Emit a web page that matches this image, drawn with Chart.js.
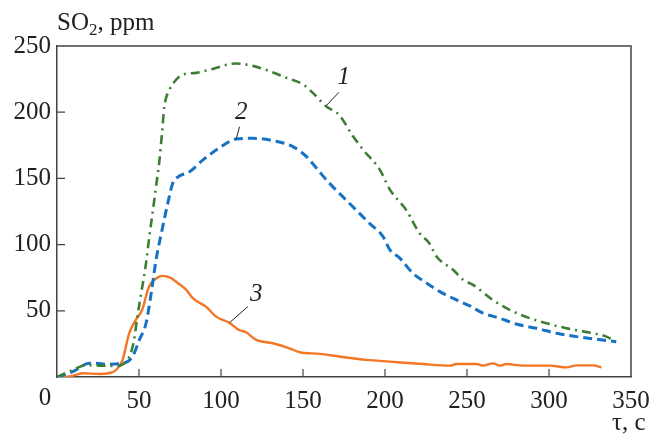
<!DOCTYPE html>
<html>
<head>
<meta charset="utf-8">
<script src="https://cdn.jsdelivr.net/npm/chart.js@4.4.1/dist/chart.umd.min.js"></script>
<style>
  html, body { margin: 0; padding: 0; background: #fff; }
  #wrap { width: 664px; height: 437px; position: relative; }
</style>
</head>
<body>
<div id="wrap"><canvas id="so2Chart"></canvas></div>
<script>
// curve 1 (green, dash-dot)
const t1 = [0, 9.5, 17.7, 25.8, 36, 40, 44, 47, 49, 51.3, 54.3, 56.3, 58.4, 60.4, 62.5, 64, 65.5, 68.6, 71.6, 76.7, 84.9, 95, 109, 119.4, 129.6, 139.8, 150, 156, 164, 172, 180.5, 186.6, 196.8, 203, 213, 221, 227, 231.4, 241.5, 247.6, 253.7, 266, 276, 288.3, 298.5, 310.7, 327, 335, 340];
const v1 = [0, 5.3, 9, 8.6, 8.3, 9.5, 15, 28, 45.6, 63, 86, 106, 125, 144, 164, 184, 204.5, 217, 223, 228.4, 229.7, 232.7, 236.8, 235, 231, 226, 221, 214.6, 204.5, 198, 181.8, 171.7, 156.6, 141.5, 126, 108.7, 101, 91, 81, 73.4, 69.6, 58, 50.7, 44.4, 40.6, 36.8, 33, 30.5, 27];

// curve 2 (blue, dashed)
const t2 = [0, 9.5, 19.7, 23.8, 30, 40, 46, 50.2, 54.3, 57.4, 60.4, 64.5, 67.5, 70.6, 73.6, 80.8, 89, 99, 109.3, 119.4, 133.7, 143.8, 152, 160, 166, 174.4, 182.5, 190.6, 198.8, 203, 209, 217, 225.3, 233.4, 243.6, 251.7, 259.8, 270, 280, 292.4, 304.6, 316.8, 329, 341];
const v2 = [0, 4, 10.3, 10.3, 9.6, 10.3, 15.4, 28, 40.6, 63, 88.5, 113.7, 131, 146.5, 151, 155, 164, 173, 179.8, 180.3, 178, 174, 166.6, 155, 146.5, 136, 126, 116, 106, 96, 89.8, 78.4, 71, 64.5, 58.2, 53.7, 48.2, 44.4, 40, 36.8, 33, 30.5, 28.5, 26.7];

// curve 3 (orange, solid)
const t3 = [0, 8, 15.6, 26, 32, 36, 40, 44, 48, 52, 56, 60, 64.5, 69, 73.6, 78.7, 82.8, 91, 97, 105, 111, 115, 121.5, 131.6, 141.8, 148, 160, 172, 188.6, 203, 223, 239.5, 243.6, 255.8, 260, 266, 270, 274, 284, 300.5, 310.7, 316.8, 327, 332];
const v3 = [0, 0.5, 2.8, 2.3, 3, 5.3, 13, 33, 43, 51, 68, 74, 76.4, 75, 71, 66, 59.5, 53, 45.6, 41, 35.5, 34, 28, 25.5, 21.7, 18.7, 17.5, 15.5, 12.9, 11.6, 9.8, 8.6, 9.8, 9.8, 8.6, 10.3, 8.6, 9.8, 8.6, 8.6, 7.3, 8.8, 8.8, 7.3];

const xTicks = [0, 50, 100, 150, 200, 250, 300, 350];
const yTicks = [0, 50, 100, 150, 200, 250];

// curve numbers: label, label position, leader line from -> to (data units)
const curveLabels = ['1', '2', '3'];
const labelPos = [[174.8, 226], [112.3, 199.5], [121.5, 62]];
const leaderFrom = [[171.9, 215], [111.3, 189], [116.4, 53.2]];
const leaderTo = [[164.2, 205], [109.3, 179.8], [105.2, 41]];

const SERIF = "'Liberation Serif', 'Times New Roman', serif";
const AXIS_COLOR = '#444';

function toPoints(ts, vs) {
    return ts.map((t, i) => ({ x: t, y: vs[i] }));
}

const decorPlugin = {
    id: 'decor',
    afterDraw(chart) {
        const ctx = chart.ctx;
        const area = chart.chartArea;
        const xs = chart.scales.x;
        const ys = chart.scales.y;
        ctx.save();

        // top and right frame
        ctx.strokeStyle = AXIS_COLOR;
        ctx.lineWidth = 1.5;
        ctx.beginPath();
        ctx.moveTo(area.left, area.top);
        ctx.lineTo(area.right, area.top);
        ctx.lineTo(area.right, area.bottom);
        ctx.stroke();

        // inward tick marks
        ctx.lineWidth = 1.2;
        ctx.beginPath();
        xTicks.slice(1, -1).forEach(v => {
            const px = xs.getPixelForValue(v);
            ctx.moveTo(px, area.bottom);
            ctx.lineTo(px, area.bottom - 8);
        });
        yTicks.slice(1, -1).forEach(v => {
            const py = ys.getPixelForValue(v);
            ctx.moveTo(area.left, py);
            ctx.lineTo(area.left + 8, py);
        });
        ctx.stroke();

        ctx.fillStyle = '#222';
        ctx.textBaseline = 'alphabetic';

        // shared origin label
        ctx.font = '25px ' + SERIF;
        ctx.textAlign = 'center';
        ctx.fillText('0', 45, 405);

        // y-axis title with subscript
        ctx.textAlign = 'left';
        let x = 57;
        ctx.fillText('SO', x, 30);
        x += ctx.measureText('SO').width;
        ctx.font = '17px ' + SERIF;
        ctx.fillText('2', x, 35);
        x += ctx.measureText('2').width;
        ctx.font = '25px ' + SERIF;
        ctx.fillText(', ppm', x, 30);

        // x-axis title
        ctx.fillText('\u03c4, c', 612, 430);

        // curve numbers with leader lines
        ctx.strokeStyle = '#222';
        ctx.lineWidth = 1;
        ctx.font = 'italic 25px ' + SERIF;
        ctx.textAlign = 'center';
        ctx.textBaseline = 'middle';
        curveLabels.forEach((lab, i) => {
            ctx.fillText(lab, xs.getPixelForValue(labelPos[i][0]), ys.getPixelForValue(labelPos[i][1]));
            ctx.beginPath();
            ctx.moveTo(xs.getPixelForValue(leaderFrom[i][0]), ys.getPixelForValue(leaderFrom[i][1]));
            ctx.lineTo(xs.getPixelForValue(leaderTo[i][0]), ys.getPixelForValue(leaderTo[i][1]));
            ctx.stroke();
        });

        ctx.restore();
    }
};

new Chart(document.getElementById('so2Chart'), {
    type: 'line',
    data: {
        datasets: [
            {
                label: '1',
                data: toPoints(t1, v1),
                borderColor: '#3e7e34',
                borderWidth: 2.6,
                borderDash: [9, 5, 2, 5],
                pointRadius: 0,
                tension: 0.3,
                cubicInterpolationMode: 'monotone'
            },
            {
                label: '2',
                data: toPoints(t2, v2),
                borderColor: '#1572c4',
                borderWidth: 3,
                borderDash: [9, 5],
                pointRadius: 0,
                tension: 0.3,
                cubicInterpolationMode: 'monotone'
            },
            {
                label: '3',
                data: toPoints(t3, v3),
                borderColor: '#f37624',
                borderWidth: 2.4,
                pointRadius: 0,
                tension: 0.3,
                cubicInterpolationMode: 'monotone'
            }
        ]
    },
    options: {
        responsive: true,
        maintainAspectRatio: false,
        animation: false,
        layout: { padding: { top: 46, right: 33, bottom: 0, left: 0 } },
        plugins: {
            legend: { display: false },
            tooltip: { enabled: false }
        },
        scales: {
            x: {
                type: 'linear',
                min: 0,
                max: 350,
                afterBuildTicks: scale => { scale.ticks = xTicks.map(v => ({ value: v })); },
                afterFit: scale => { scale.height = 60; },
                grid: { display: false, drawTicks: false },
                border: { display: true, color: AXIS_COLOR, width: 1.5 },
                ticks: {
                    padding: 9,
                    color: '#222',
                    font: { family: SERIF, size: 25 },
                    maxRotation: 0,
                    autoSkip: false,
                    callback: v => (v === 0 ? '' : v)
                }
            },
            y: {
                min: 0,
                max: 250,
                afterBuildTicks: scale => { scale.ticks = yTicks.map(v => ({ value: v })); },
                afterFit: scale => { scale.width = 57; },
                grid: { display: false, drawTicks: false },
                border: { display: true, color: AXIS_COLOR, width: 1.5 },
                ticks: {
                    padding: 6,
                    color: '#222',
                    font: { family: SERIF, size: 25 },
                    autoSkip: false,
                    callback: v => (v === 0 ? '' : v)
                }
            }
        }
    },
    plugins: [decorPlugin]
});
</script>
</body>
</html>
